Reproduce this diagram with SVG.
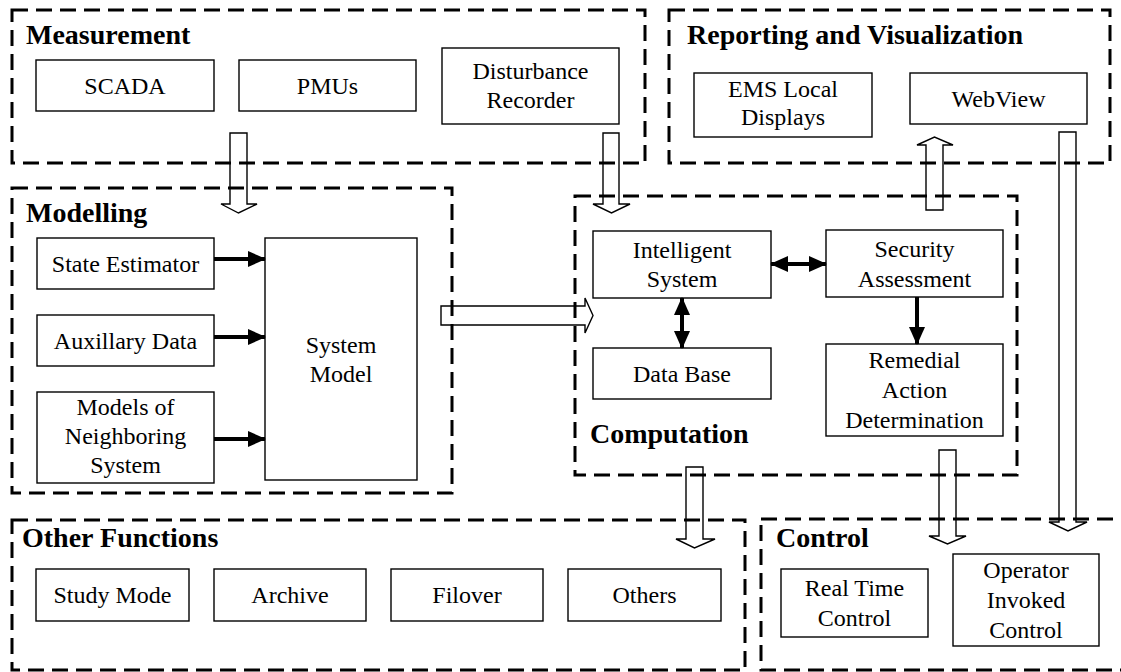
<svg xmlns="http://www.w3.org/2000/svg" width="1121" height="672" viewBox="0 0 1121 672">
  <defs>
    <marker id="head" markerUnits="userSpaceOnUse" markerWidth="18" markerHeight="16" refX="17" refY="8" orient="auto-start-reverse">
      <path d="M0,0 L18,8 L0,16 Z" fill="#000"/>
    </marker>
  </defs>

  <rect width="1121" height="672" fill="#fff"/>

  <!-- functional areas: dashed frames with bold titles -->
  <g fill="none" stroke="#000" stroke-width="3" stroke-dasharray="16 8">
    <g id="measurement"><rect x="12" y="10" width="633" height="153"/></g>
    <g id="reporting"><rect x="669" y="10" width="441" height="153"/></g>
    <g id="modelling"><rect x="12" y="188" width="440" height="305"/></g>
    <g id="computation"><rect x="575" y="196" width="442" height="279"/></g>
    <g id="other-functions"><rect x="12" y="520" width="733" height="150"/></g>
    <g id="control"><rect x="761" y="519" width="400" height="151"/></g>
  </g>
  <g id="area-titles" fill="#000">
    <text font-family="Liberation Serif" font-size="28" font-weight="bold" x="26" y="44">Measurement</text>
    <text font-family="Liberation Serif" font-size="28" font-weight="bold" x="687" y="44">Reporting and Visualization</text>
    <text font-family="Liberation Serif" font-size="28" font-weight="bold" x="26" y="222">Modelling</text>
    <text font-family="Liberation Serif" font-size="28" font-weight="bold" x="590" y="443">Computation</text>
    <text font-family="Liberation Serif" font-size="28" font-weight="bold" x="22" y="547">Other Functions</text>
    <text font-family="Liberation Serif" font-size="28" font-weight="bold" x="776" y="547">Control</text>
  </g>

  <!-- function blocks -->
  <g fill="#fff" stroke="#000" stroke-width="1.4">
    <g id="scada"><rect x="36" y="60" width="178" height="51"/></g>
    <g id="pmus"><rect x="239" y="60" width="177" height="51"/></g>
    <g id="disturbance-recorder"><rect x="442" y="48" width="177" height="76"/></g>
    <g id="ems-local-displays"><rect x="694" y="73" width="178" height="64"/></g>
    <g id="webview"><rect x="910" y="73" width="177" height="51"/></g>
    <g id="state-estimator"><rect x="37" y="238" width="177" height="51"/></g>
    <g id="auxillary-data"><rect x="37" y="315" width="177" height="51"/></g>
    <g id="neighboring-models"><rect x="37" y="392" width="177" height="91"/></g>
    <g id="system-model"><rect x="265" y="238" width="152" height="242"/></g>
    <g id="intelligent-system"><rect x="593" y="231" width="178" height="67"/></g>
    <g id="security-assessment"><rect x="826" y="230" width="177" height="67"/></g>
    <g id="data-base"><rect x="593" y="348" width="178" height="51"/></g>
    <g id="remedial-action"><rect x="826" y="344" width="177" height="92"/></g>
    <g id="study-mode"><rect x="36" y="569" width="153" height="52"/></g>
    <g id="archive"><rect x="214" y="569" width="152" height="52"/></g>
    <g id="filover"><rect x="391" y="569" width="152" height="52"/></g>
    <g id="others"><rect x="568" y="569" width="153" height="52"/></g>
    <g id="real-time-control"><rect x="781" y="569" width="147" height="68"/></g>
    <g id="operator-invoked-control"><rect x="953" y="554" width="146" height="92"/></g>
  </g>

  <!-- block labels -->
  <g id="block-labels" fill="#000" text-anchor="middle">
    <text font-family="Liberation Serif" font-size="24" text-anchor="middle" x="125" y="94">SCADA</text>
    <text font-family="Liberation Serif" font-size="24" text-anchor="middle" x="327.5" y="94">PMUs</text>
    <text font-family="Liberation Serif" font-size="24" text-anchor="middle" x="530.5" y="79">Disturbance</text>
    <text font-family="Liberation Serif" font-size="24" text-anchor="middle" x="530.5" y="108">Recorder</text>

    <text font-family="Liberation Serif" font-size="24" text-anchor="middle" x="783" y="97">EMS Local</text>
    <text font-family="Liberation Serif" font-size="24" text-anchor="middle" x="783" y="125">Displays</text>
    <text font-family="Liberation Serif" font-size="24" text-anchor="middle" x="998.5" y="107">WebView</text>

    <text font-family="Liberation Serif" font-size="24" text-anchor="middle" x="125.5" y="272">State Estimator</text>
    <text font-family="Liberation Serif" font-size="24" text-anchor="middle" x="125.5" y="349">Auxillary Data</text>
    <text font-family="Liberation Serif" font-size="24" text-anchor="middle" x="125.5" y="415">Models of</text>
    <text font-family="Liberation Serif" font-size="24" text-anchor="middle" x="125.5" y="444">Neighboring</text>
    <text font-family="Liberation Serif" font-size="24" text-anchor="middle" x="125.5" y="473">System</text>
    <text font-family="Liberation Serif" font-size="24" text-anchor="middle" x="341" y="353">System</text>
    <text font-family="Liberation Serif" font-size="24" text-anchor="middle" x="341" y="382">Model</text>

    <text font-family="Liberation Serif" font-size="24" text-anchor="middle" x="682" y="258">Intelligent</text>
    <text font-family="Liberation Serif" font-size="24" text-anchor="middle" x="682" y="287">System</text>
    <text font-family="Liberation Serif" font-size="24" text-anchor="middle" x="914.5" y="257">Security</text>
    <text font-family="Liberation Serif" font-size="24" text-anchor="middle" x="914.5" y="287">Assessment</text>
    <text font-family="Liberation Serif" font-size="24" text-anchor="middle" x="682" y="382">Data Base</text>
    <text font-family="Liberation Serif" font-size="24" text-anchor="middle" x="914.5" y="368">Remedial</text>
    <text font-family="Liberation Serif" font-size="24" text-anchor="middle" x="914.5" y="398">Action</text>
    <text font-family="Liberation Serif" font-size="24" text-anchor="middle" x="914.5" y="428">Determination</text>

    <text font-family="Liberation Serif" font-size="24" text-anchor="middle" x="112.5" y="603">Study Mode</text>
    <text font-family="Liberation Serif" font-size="24" text-anchor="middle" x="290" y="603">Archive</text>
    <text font-family="Liberation Serif" font-size="24" text-anchor="middle" x="467" y="603">Filover</text>
    <text font-family="Liberation Serif" font-size="24" text-anchor="middle" x="644.5" y="603">Others</text>

    <text font-family="Liberation Serif" font-size="24" text-anchor="middle" x="854.5" y="596">Real Time</text>
    <text font-family="Liberation Serif" font-size="24" text-anchor="middle" x="854.5" y="626">Control</text>
    <text font-family="Liberation Serif" font-size="24" text-anchor="middle" x="1026" y="578">Operator</text>
    <text font-family="Liberation Serif" font-size="24" text-anchor="middle" x="1026" y="608">Invoked</text>
    <text font-family="Liberation Serif" font-size="24" text-anchor="middle" x="1026" y="638">Control</text>
  </g>

  <!-- connectors -->
  <g id="connectors">
    <!-- hollow block arrows between areas -->
    <g fill="none" stroke="#000" stroke-width="1.4">
      <polygon points="230,133 247,133 247,204 257,204 238.5,213 221,204 230,204"/>
      <polygon points="603,133 619,133 619,204 630,204 611.5,213 593,204 603,204"/>
      <polygon points="926,210 943,210 943,145 953,145 934.5,137 917,145 926,145"/>
      <polygon points="1059,132 1076,132 1076,522 1087,522 1068,531 1049,522 1059,522"/>
      <polygon points="939,450 956,450 956,536 966,536 947.5,544 929,536 939,536"/>
      <polygon points="686,467 703,467 703,539 715,539 694.5,548 676,539 686,539"/>
      <polygon points="441,306 585,306 585,298 593,315.5 585,333 585,325 441,325"/>
    </g>

    <!-- solid data-flow arrows -->
    <g stroke="#000" stroke-width="4" fill="none">
      <line x1="214" y1="259" x2="265" y2="259" marker-end="url(#head)"/>
      <line x1="214" y1="337" x2="265" y2="337" marker-end="url(#head)"/>
      <line x1="214" y1="439" x2="265" y2="439" marker-end="url(#head)"/>
      <line x1="771" y1="264" x2="826" y2="264" marker-start="url(#head)" marker-end="url(#head)"/>
      <line x1="682" y1="298" x2="682" y2="348" marker-start="url(#head)" marker-end="url(#head)"/>
      <line x1="917" y1="297" x2="917" y2="344" marker-end="url(#head)"/>
    </g>
  </g>
</svg>
